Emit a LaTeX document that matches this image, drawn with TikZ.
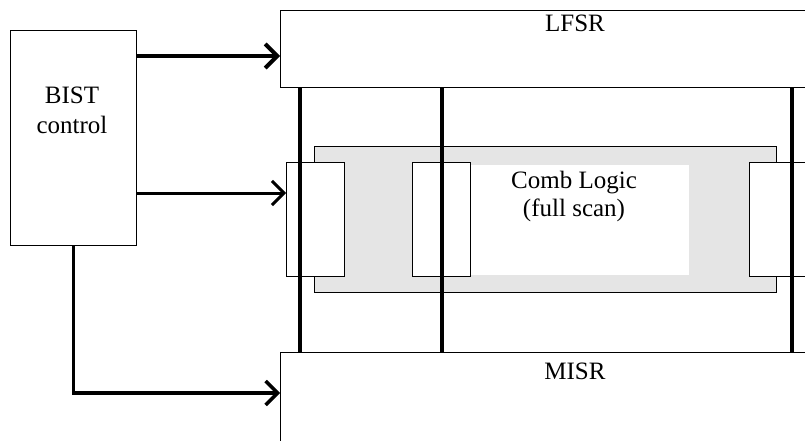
\documentclass[tikz,border=0pt]{standalone}
\usepackage{fontspec}
\setmainfont{Liberation Serif}
\usetikzlibrary{arrows.meta}
\begin{document}
\begin{tikzpicture}[x=1pt,y=-1pt,
  box/.style={draw, line width=1.2pt, inner sep=0pt, anchor=north west},
  lbl/.style={anchor=base, inner sep=0pt, font=\fontsize{25}{30}\selectfont},
  bus/.style={line width=4pt},
  sig/.style={line width=#1, -{Straight Barb[length=12pt,width=24pt,line width=#1]}}]
\useasboundingbox (0,0) rectangle (805,441);
\clip (0,0) rectangle (805,441);
% blocks
\node[box, minimum width=126pt, minimum height=215pt] (BIST) at (10,30) {};
\node[box, minimum width=540pt, minimum height=77pt] (LFSR) at (280,10) {};
\node[box, minimum width=540pt, minimum height=120pt] (MISR) at (280,352) {};
\node[box, fill=gray!20, minimum width=462pt, minimum height=146pt] (comb) at (314,146) {};
\node[box, draw=none, fill=white, minimum width=218pt, minimum height=110pt] (combtext) at (470,164) {};
\node[box, fill=white, minimum width=58pt, minimum height=114pt] (sc1) at (286,162) {};
\node[box, fill=white, minimum width=58pt, minimum height=114pt] (sc2) at (412,162) {};
\node[box, fill=white, minimum width=70pt, minimum height=114pt] (sc3) at (749,162) {};
% labels
\node[lbl] (t1) at (72,103) {BIST};
\node[lbl] (t2) at (72,133) {control};
\node[lbl] (t3) at (575,32) {LFSR};
\node[lbl] (t4) at (575,379) {MISR};
\node[lbl] (t5) at (574,188) {Comb Logic};
\node[lbl] (t6) at (574,216) {(full scan)};
% buses
\draw[bus] ([xshift=20pt]LFSR.south west) -- ([xshift=20pt]MISR.north west);
\draw[bus] ([xshift=162pt]LFSR.south west) -- ([xshift=162pt]MISR.north west);
\draw[bus] ([xshift=512pt]LFSR.south west) -- ([xshift=512pt]MISR.north west);
% control signals
\coordinate (r1) at (0,56);
\coordinate (r2) at (0,193);
\coordinate (r3) at (0,393);
\draw[sig=4pt] (BIST.east |- r1) -- (LFSR.west |- r1);
\draw[sig=3pt] (BIST.east |- r2) -- (sc1.west |- r2);
\draw[sig=3.5pt] (BIST.south) |- (MISR.west |- r3);
\end{tikzpicture}
\end{document}
